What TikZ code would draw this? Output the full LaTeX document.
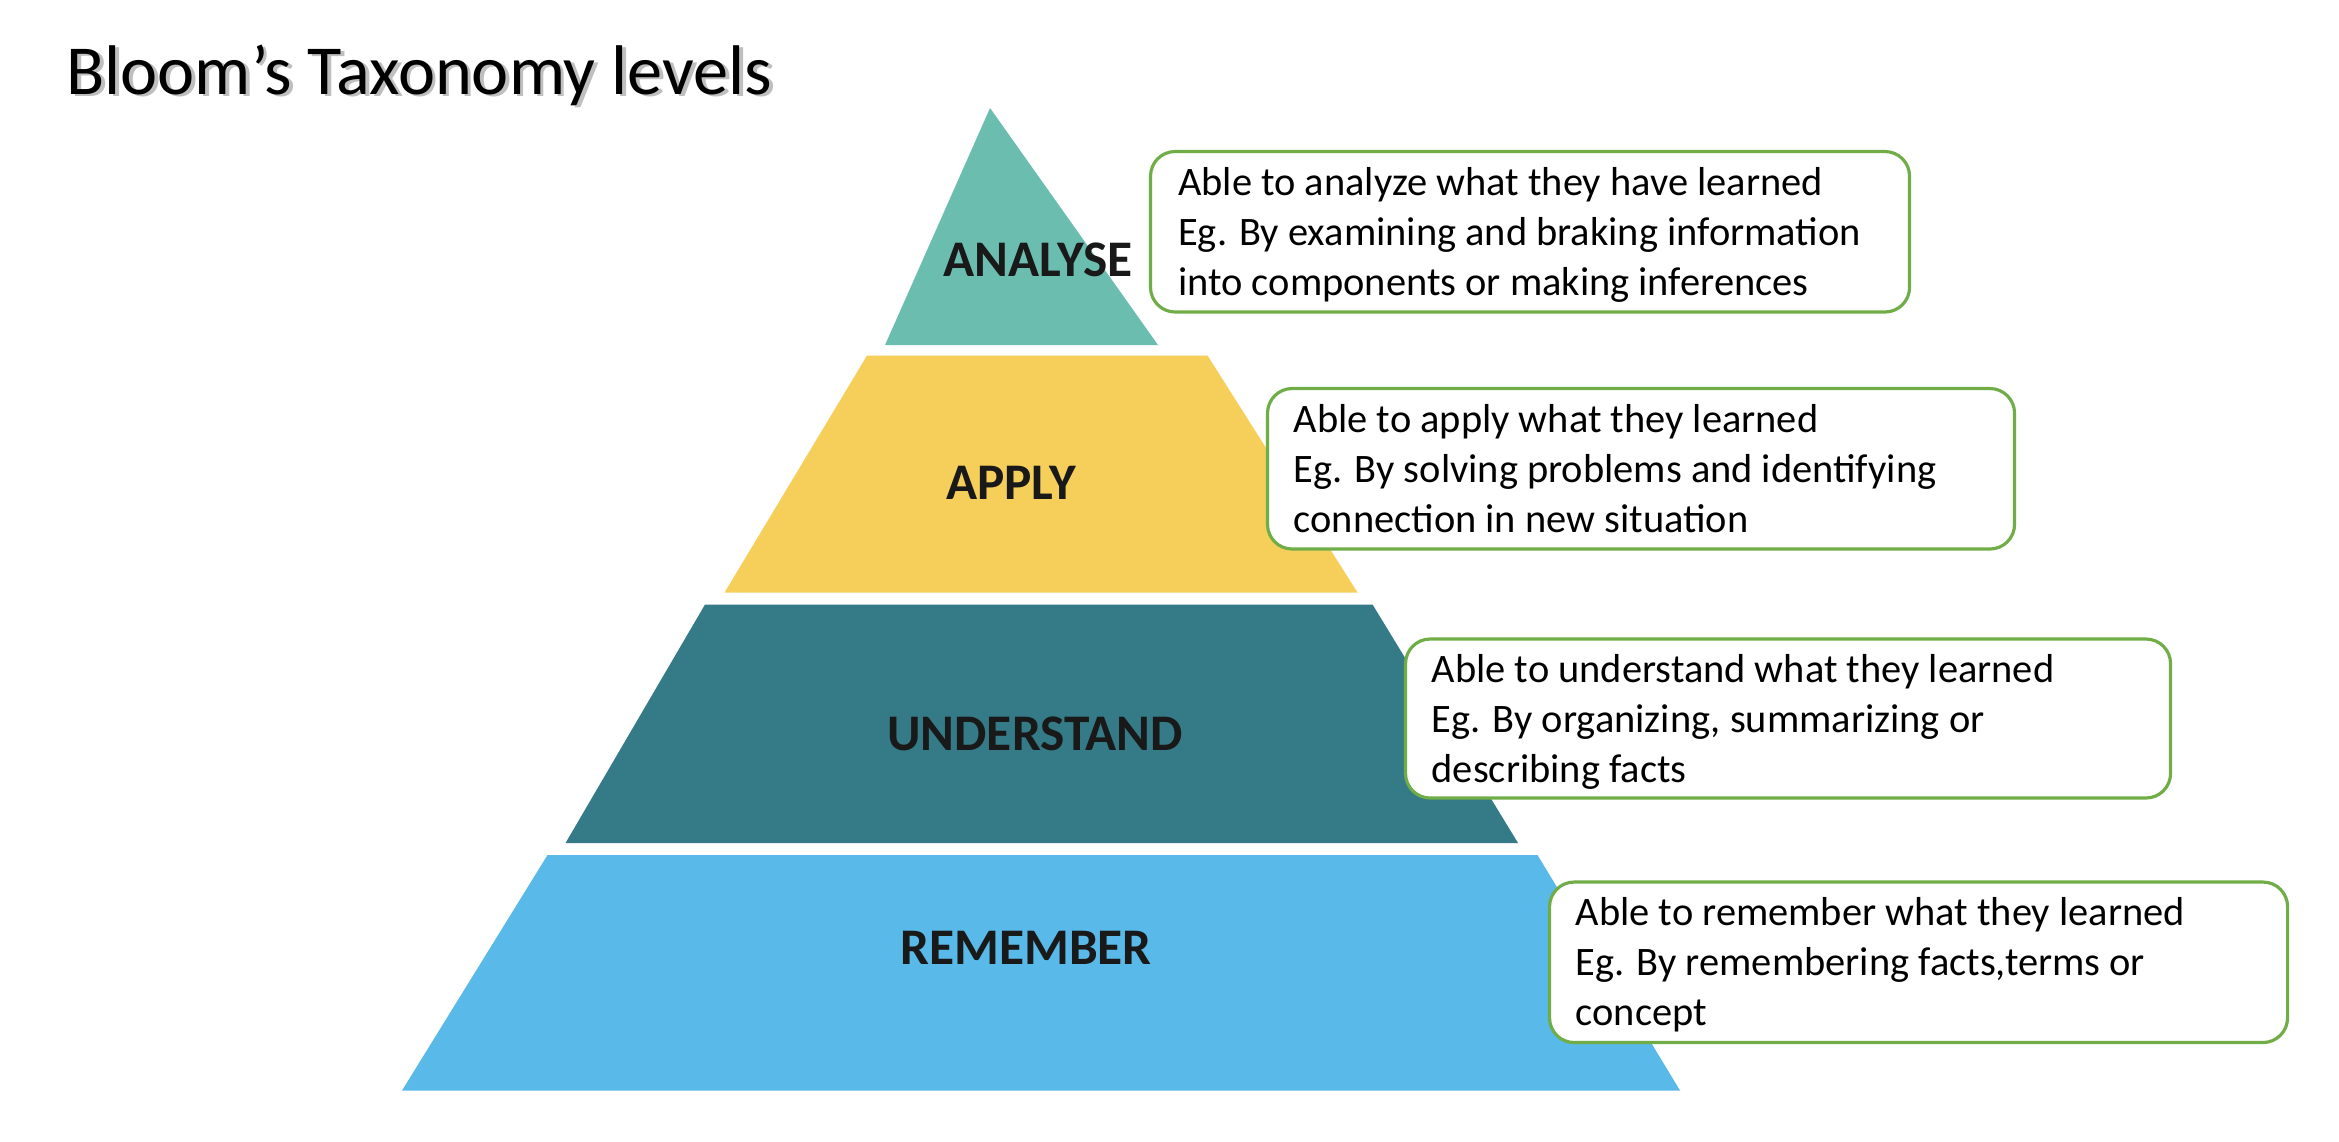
\documentclass[tikz,border=0pt]{standalone}
\usepackage{fontspec}
\setmainfont{Carlito}
\begin{document}
\begin{tikzpicture}[x=0.15mm,y=-0.15mm,
  lvl/.style={font=\fontsize{14.6}{17}\selectfont\bfseries, text=black!90},
  txt/.style={align=left, anchor=north west, font=\fontsize{11.5}{14.2}\selectfont, inner sep=0pt}]
\useasboundingbox (0,0) rectangle (1559.3,761.3);
\definecolor{cA}{RGB}{107,189,176}
\definecolor{cP}{RGB}{245,207,90}
\definecolor{cU}{RGB}{53,122,135}
\definecolor{cR}{RGB}{89,185,233}
\definecolor{gb}{RGB}{112,173,71}
% title
\node[anchor=west, font=\fontsize{20}{22}\selectfont, text=black!25] at (38.5,51.5) {Bloom’s Taxonomy levels};
\node[anchor=west, font=\fontsize{20}{22}\selectfont] (title) at (36,50) {Bloom’s Taxonomy levels};
% pyramid tiers
\fill[cA] (660,72) -- (772,230) -- (590,230) -- cycle;
\fill[cP] (578,237) -- (805,237) -- (905,395) -- (483,395) -- cycle;
\fill[cU] (470,403) -- (915,403) -- (1012,562) -- (377,562) -- cycle;
\fill[cR] (365,570) -- (1025,570) -- (1120,727) -- (268,727) -- cycle;
\node[lvl] (la) at (692,173) {ANALYSE};
\node[lvl] (lp) at (674,322) {APPLY};
\node[lvl] (lu) at (690,489) {UNDERSTAND};
\node[lvl] (lr) at (684,632) {REMEMBER};
% boxes
\foreach \n/\xa/\ya/\xb/\yb in {b1/767/101/1273/208, b2/845/259/1343/366, b3/937/426/1447/532, b4/1033/588/1525/695}{
  \draw[gb, line width=0.9pt, fill=white, rounded corners=7pt] (\xa,\ya) rectangle (\xb,\yb);
}
\node[txt] (t1) at (785,111) {Able to analyze what they have learned\\Eg. By examining and braking information\\into components or making inferences};
\node[txt] (t2) at (862,269) {Able to apply what they learned\\Eg. By solving problems and identifying\\connection in new situation};
\node[txt] (t3) at (954,436) {Able to understand what they learned\\Eg. By organizing, summarizing or\\describing facts};
\node[txt] (t4) at (1050,598) {Able to remember what they learned\\Eg. By remembering facts,terms or\\concept};
\end{tikzpicture}
\end{document}
